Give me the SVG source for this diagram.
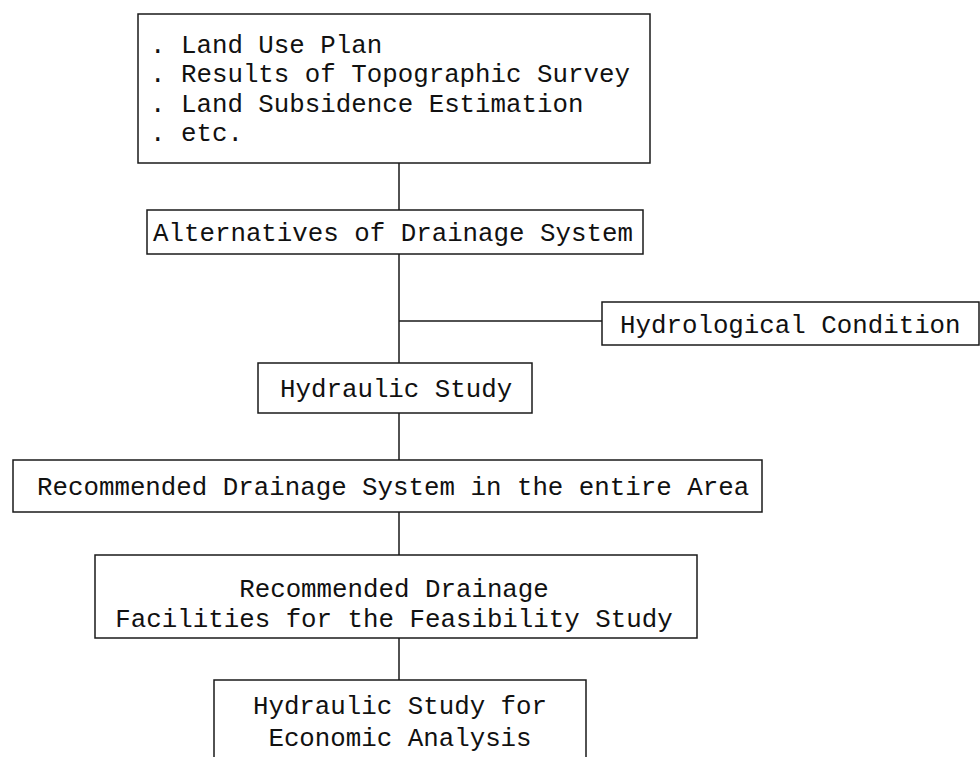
<svg xmlns="http://www.w3.org/2000/svg" width="980" height="757" viewBox="0 0 980 757">
<style>
.box{fill:#fff;stroke:#1a1a1a;stroke-width:1.5}
.ln{fill:none;stroke:#1a1a1a;stroke-width:1.5}
text{font-family:"Liberation Mono","DejaVu Sans Mono",monospace;font-size:25.8px;fill:#111}
.c{text-anchor:middle}
</style>
<rect width="980" height="757" fill="#fff"/>
<g id="connectors">
<path class="ln" d="M399 163V210M399 254V363M399 321H602M399 413V460M399 512V555M399 638V680"/>
</g>
<g id="inputs">
<rect class="box" x="138" y="14" width="512" height="149"/>
<text x="150" y="53">. Land Use Plan</text>
<text x="150" y="82">. Results of Topographic Survey</text>
<text x="150" y="112">. Land Subsidence Estimation</text>
<text x="150" y="141">. etc.</text>
</g>
<g id="alternatives">
<rect class="box" x="147" y="210" width="496" height="44"/>
<text x="153" y="241">Alternatives of Drainage System</text>
</g>
<g id="hydrological">
<rect class="box" x="602" y="302" width="377" height="43"/>
<text x="620" y="333">Hydrological Condition</text>
</g>
<g id="hydraulic">
<rect class="box" x="258" y="363" width="274" height="50"/>
<text x="280" y="397">Hydraulic Study</text>
</g>
<g id="recommended-system">
<rect class="box" x="13" y="460" width="749" height="52"/>
<text x="37" y="495">Recommended Drainage System in the entire Area</text>
</g>
<g id="recommended-facilities">
<rect class="box" x="95" y="555" width="602" height="83"/>
<text class="c" x="394" y="597">Recommended Drainage</text>
<text class="c" x="394" y="627">Facilities for the Feasibility Study</text>
</g>
<g id="economic">
<path class="ln" d="M214 757V680H586V757"/>
<text class="c" x="400" y="714">Hydraulic Study for</text>
<text class="c" x="400" y="746">Economic Analysis</text>
</g>
</svg>
